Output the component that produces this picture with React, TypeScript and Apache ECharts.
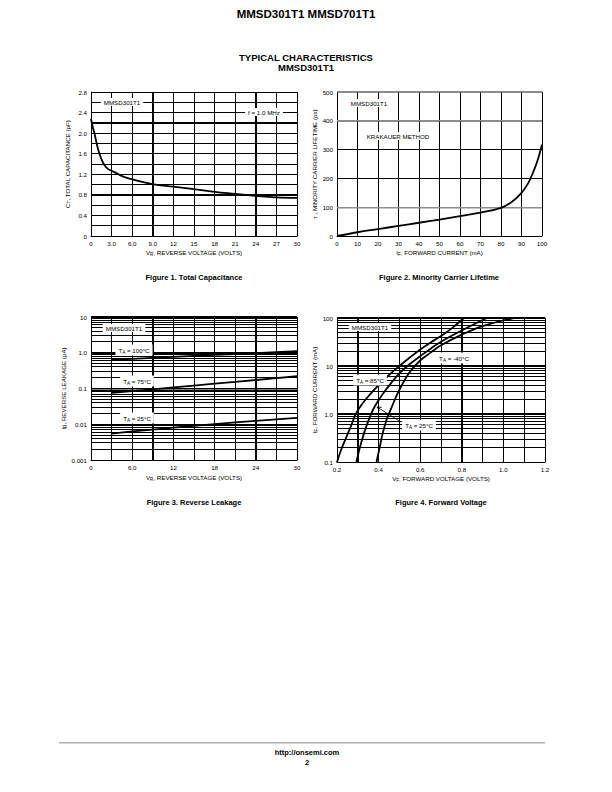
import React, { useEffect, useRef } from 'react';
import * as echarts from 'echarts';

const FONT = '"Liberation Sans", Arial, Helvetica, sans-serif';

// Figure 1: Total capacitance
const capV = [0, 0.25, 0.5, 1, 1.5, 2, 2.5, 3, 4, 5, 6, 9, 12, 15, 18, 21, 24, 27, 30];
const capC = [2.28, 2.12, 2.0, 1.7, 1.5, 1.37, 1.3, 1.27, 1.2, 1.14, 1.1, 1.01, 0.96, 0.91, 0.86, 0.82, 0.78, 0.75, 0.74];

// Figure 2: Minority carrier lifetime
const lifeI = [0, 10, 20, 30, 40, 50, 60, 70, 80, 85, 90, 93, 95, 97.5, 100];
const lifeT = [0, 13, 24, 35, 46, 57, 69, 81, 98, 117, 150, 180, 210, 255, 318];

// Figure 3: Reverse leakage
const leakV = [3, 6, 9, 12, 15, 18, 21, 24, 27, 30];
const leak100 = [0.63, 0.67, 0.72, 0.77, 0.82, 0.87, 0.92, 0.98, 1.04, 1.1];
const leak75 = [0.075, 0.085, 0.095, 0.107, 0.121, 0.136, 0.153, 0.173, 0.195, 0.22];
const leak25 = [0.0055, 0.0063, 0.0071, 0.008, 0.009, 0.0101, 0.0113, 0.0125, 0.0137, 0.015];

// Figure 4: Forward voltage
const fwd85V = [0.2, 0.22, 0.245, 0.27, 0.29, 0.32, 0.36, 0.4, 0.45, 0.5, 0.55, 0.6, 0.65, 0.7, 0.75, 0.81];
const fwd85I = [0.1, 0.18, 0.33, 0.6, 1.0, 1.6, 2.6, 4.0, 6.5, 10, 15, 22, 31, 42, 60, 100];
const fwd25V = [0.293, 0.31, 0.33, 0.355, 0.38, 0.42, 0.46, 0.5, 0.55, 0.6, 0.65, 0.7, 0.8, 0.92];
const fwd25I = [0.1, 0.2, 0.4, 0.8, 1.4, 2.6, 4.4, 7, 11, 16, 23, 32, 55, 100];
const fwdm40V = [0.39, 0.405, 0.42, 0.44, 0.46, 0.5, 0.55, 0.6, 0.65, 0.7, 0.8, 0.9, 1.05];
const fwdm40I = [0.1, 0.2, 0.4, 0.8, 1.3, 3.2, 7.5, 13, 19, 27, 45, 68, 100];

// grid line positions (axis values)
const grid1X = [3, 6, 9, 12, 15, 18, 21, 24, 27, 30];
const grid1Y = [0.2, 0.4, 0.6, 0.8, 1.0, 1.2, 1.4, 1.6, 1.8, 2.0, 2.2, 2.4, 2.6, 2.8];
const grid2X = [10, 20, 30, 40, 50, 60, 70, 80, 90, 100];
const grid2YBlack = [200, 300];
const grid2YGray = [100, 400, 500];
const grid3X = [3, 6, 9, 12, 15, 18, 21, 24, 27, 30];
const grid4X = [0.3, 0.4, 0.5, 0.6, 0.7, 0.8, 0.9, 1.0, 1.1, 1.2];

const TICK = 6.2;
const rich = {
  a: { fontSize: TICK, lineHeight: 9, fontFamily: FONT, color: '#000' },
  s: { fontSize: 4.6, lineHeight: 5, verticalAlign: 'bottom', fontFamily: FONT, color: '#000' },
};

const pair = (xs: number[], ys: number[]) => xs.map((x, i) => [x, ys[i]]);

// grid items: [x, y, direction (0 vertical / 1 horizontal), style (0 black, 1 grey heavy, 2 black heavy)]
const vItems = (xs: number[], y0: number) => xs.map((x) => [x, y0, 0, 0]);
const hItems = (ys: number[], x0: number, st = 0) => ys.map((y) => [x0, y, 1, st]);
const logItems = (e0: number, e1: number, x0: number) => {
  const out: number[][] = [];
  for (let e = e0; e <= e1; e++) {
    if (e > e0) out.push([x0, Math.pow(10, e), 1, 2]);
    if (e < e1) for (let k = 2; k <= 9; k++) out.push([x0, k * Math.pow(10, e), 1, 0]);
  }
  return out;
};

const logFmt = (v: number) => {
  const e = Math.round(Math.log10(v));
  const m: Record<string, string> = { '2': '100', '1': '10', '0': '1.0', '-1': '0.1', '-2': '0.01', '-3': '0.001' };
  return m[String(e)] ?? String(v);
};

const baseAxis = (gridIndex: number) => ({
  gridIndex,
  axisLine: { show: true, onZero: false, lineStyle: { color: '#000', width: 1 } },
  axisTick: { show: false },
  splitLine: { show: true, lineStyle: { color: '#000', width: 1 } },
  axisLabel: { fontSize: TICK, color: '#000', fontFamily: FONT, margin: 4 },
  nameLocation: 'middle' as const,
  nameTextStyle: { fontSize: TICK, color: '#000', fontFamily: FONT, rich },
});

const curve = (xi: number, data: number[][], extra: any = {}) => ({
  type: 'line',
  xAxisIndex: xi,
  yAxisIndex: xi,
  data,
  smooth: 0.4,
  symbol: 'none',
  silent: true,
  lineStyle: { color: '#000', width: 1.8 },
  ...extra,
});

const gridSeries = (xi: number, items: number[][]) => ({
  type: 'custom',
  xAxisIndex: xi,
  yAxisIndex: xi,
  silent: true,
  z: 1,
  data: items,
  renderItem: (params: any, api: any) => {
    const cs = params.coordSys;
    const p = api.coord([api.value(0), api.value(1)]);
    const dir = api.value(2);
    const st = api.value(3);
    const w = st === 0 ? 1 : 1.4;
    const fill = st === 1 ? '#8c8c8c' : '#000';
    if (dir === 0) {
      return {
        type: 'rect',
        shape: { x: Math.round(p[0] - w / 2), y: cs.y, width: w, height: cs.height },
        style: { fill },
      };
    }
    return {
      type: 'rect',
      shape: { x: cs.x, y: Math.round(p[1] - w / 2), width: cs.width, height: w },
      style: { fill },
    };
  },
});

const label = (x: number, y: number, text: string) => ({
  type: 'text',
  x,
  y,
  z: 100,
  style: {
    text,
    rich,
    font: `${TICK}px ${FONT}`,
    fill: '#000',
    align: 'center',
    verticalAlign: 'middle',
    backgroundColor: '#fff',
    padding: [1, 3],
  },
});

const plainText = (x: number, y: number, text: string, size: number, bold = true) => ({
  type: 'text',
  x,
  y,
  z: 100,
  style: {
    text,
    font: `${bold ? 'bold ' : ''}${size}px ${FONT}`,
    fill: '#000',
    align: 'center',
    verticalAlign: 'middle',
  },
});

export default function App() {
  const ref = useRef<HTMLDivElement>(null);
  useEffect(() => {
    if (!ref.current) return;
    const chart = echarts.init(ref.current, undefined, { renderer: 'svg' });
    const option: any = {
      animation: false,
      grid: [
        { left: 91, top: 92, width: 206, height: 144 },
        { left: 337, top: 92, width: 205, height: 144 },
        { left: 91, top: 317, width: 206, height: 143 },
        { left: 337, top: 318, width: 208, height: 144 },
      ],
      xAxis: [
        {
          ...baseAxis(0),
          type: 'value',
          min: 0,
          max: 30,
          interval: 3,
          axisLabel: { ...baseAxis(0).axisLabel, formatter: (v: number) => (v > 0 && v < 10 ? v.toFixed(1) : String(v)) },
          name: '{a|V}{s|R}{a|, REVERSE VOLTAGE (VOLTS)}',
          nameGap: 12,
        },
        {
          ...baseAxis(1),
          type: 'value',
          min: 0,
          max: 100,
          interval: 10,
          name: '{a|I}{s|F}{a|, FORWARD CURRENT (mA)}',
          nameGap: 12,
        },
        {
          ...baseAxis(2),
          type: 'value',
          min: 0,
          max: 30,
          interval: 3,
          axisLabel: {
            ...baseAxis(2).axisLabel,
            formatter: (v: number) => (v % 6 !== 0 ? '' : v > 0 && v < 10 ? v.toFixed(1) : String(v)),
          },
          name: '{a|V}{s|R}{a|, REVERSE VOLTAGE (VOLTS)}',
          nameGap: 13,
        },
        {
          ...baseAxis(3),
          type: 'value',
          min: 0.2,
          max: 1.2,
          interval: 0.1,
          axisLabel: {
            ...baseAxis(3).axisLabel,
            formatter: (v: number) => (Math.round(v * 10) % 2 === 0 ? v.toFixed(1) : ''),
          },
          name: '{a|V}{s|F}{a|, FORWARD VOLTAGE (VOLTS)}',
          nameGap: 12,
        },
      ],
      yAxis: [
        {
          ...baseAxis(0),
          type: 'value',
          min: 0,
          max: 2.8,
          interval: 0.2,
          axisLabel: {
            ...baseAxis(0).axisLabel,
            formatter: (v: number) => {
              const t = Math.round(v * 10);
              if (t === 0) return '0';
              return t % 4 === 0 ? v.toFixed(1) : '';
            },
          },
          name: '{a|C}{s|T}{a|, TOTAL CAPACITANCE (pF)}',
          nameRotate: 90,
          nameGap: 19,
        },
        {
          ...baseAxis(1),
          type: 'value',
          min: 0,
          max: 500,
          interval: 100,
          splitLine: {
            show: true,
            lineStyle: { color: ['#000', '#8c8c8c', '#000', '#000', '#8c8c8c', '#8c8c8c'], width: 1.2 },
          },
          name: '{a|τ , MINORITY CARRIER LIFETIME (ps)}',
          nameRotate: 90,
          nameGap: 18,
        },
        {
          ...baseAxis(2),
          type: 'log',
          logBase: 10,
          min: 0.001,
          max: 10,
          axisLabel: { ...baseAxis(2).axisLabel, formatter: logFmt },
          name: '{a|I}{s|R}{a|, REVERSE LEAKAGE (μA)}',
          nameRotate: 90,
          nameGap: 21,
        },
        {
          ...baseAxis(3),
          type: 'log',
          logBase: 10,
          min: 0.1,
          max: 100,
          axisLabel: { ...baseAxis(3).axisLabel, formatter: logFmt },
          name: '{a|I}{s|F}{a|, FORWARD CURRENT (mA)}',
          nameRotate: 90,
          nameGap: 17,
        },
      ],
      series: [
        gridSeries(0, [...vItems(grid1X, 0), ...hItems(grid1Y, 0)]),
        gridSeries(1, [...vItems(grid2X, 0), ...hItems(grid2YBlack, 0), ...hItems(grid2YGray, 0, 1)]),
        gridSeries(2, [...vItems(grid3X, 0.001), ...logItems(-3, 1, 0)]),
        gridSeries(3, [...vItems(grid4X, 0.1), ...logItems(-1, 2, 0.2)]),
        curve(0, pair(capV, capC)),
        curve(1, pair(lifeI, lifeT)),
        curve(2, pair(leakV, leak100), { smooth: false }),
        curve(2, pair(leakV, leak75), { smooth: false }),
        curve(2, pair(leakV, leak25), { smooth: false }),
        curve(3, pair(fwd85V, fwd85I)),
        curve(3, pair(fwd25V, fwd25I)),
        curve(3, pair(fwdm40V, fwdm40I)),
      ],
      graphic: [
        plainText(306, 14, 'MMSD301T1 MMSD701T1', 11.5),
        plainText(306, 57, 'TYPICAL CHARACTERISTICS', 9.5),
        plainText(306, 67, 'MMSD301T1', 9.5),
        // figure 1 annotations
        label(122, 102, 'MMSD301T1'),
        label(264, 112, 'f = 1.0 MHz'),
        // figure 2
        label(369, 103, 'MMSD301T1'),
        label(398, 136, 'KRAKAUER METHOD'),
        // figure 3
        label(124, 328, 'MMSD301T1'),
        label(134, 350, '{a|T}{s|A}{a| = 100°C}'),
        label(137, 381, '{a|T}{s|A}{a| = 75°C}'),
        label(137, 418, '{a|T}{s|A}{a| = 25°C}'),
        // figure 4
        label(370, 327, 'MMSD301T1'),
        label(454, 358, '{a|T}{s|A}{a| = -40°C}'),
        label(370, 380, '{a|T}{s|A}{a| = 85°C}'),
        {
          type: 'polyline',
          z: 99,
          shape: { points: [[401, 422], [377, 407]] },
          style: { stroke: '#000', lineWidth: 0.8, fill: null },
        },
        {
          type: 'polyline',
          z: 99,
          shape: { points: [[381.5, 407.3], [377, 407], [379.5, 410.6]] },
          style: { stroke: '#000', lineWidth: 1, fill: null },
        },
        label(419, 425, '{a|T}{s|A}{a| = 25°C}'),
        // captions
        plainText(194, 277, 'Figure 1. Total Capacitance', 7.5),
        plainText(439, 277, 'Figure 2. Minority Carrier Lifetime', 7.5),
        plainText(194, 502, 'Figure 3. Reverse Leakage', 7.5),
        plainText(441, 502, 'Figure 4. Forward Voltage', 7.5),
        // footer rule
        {
          type: 'rect',
          shape: { x: 59, y: 742, width: 486, height: 1.5 },
          style: { fill: '#b0b0b0' },
        },
        plainText(307, 752, 'http://onsemi.com', 7.5),
        plainText(307, 762, '2', 7.5),
      ],
    };
    chart.setOption(option);
    return () => chart.dispose();
  }, []);
  return (
    <div
      ref={ref}
      style={{ position: 'absolute', left: 0, top: 0, width: 612, height: 792, background: '#fff' }}
    />
  );
}
